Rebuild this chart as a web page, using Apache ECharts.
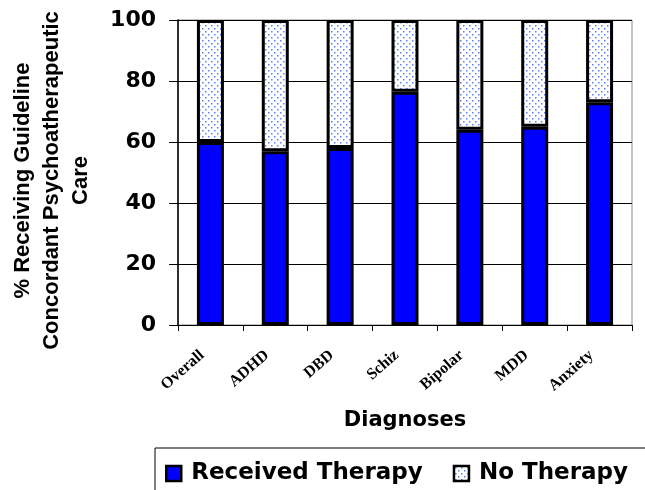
<!DOCTYPE html>
<html>
<head>
<meta charset="utf-8">
<script src="https://cdn.jsdelivr.net/npm/echarts@6/dist/echarts.min.js"></script>
<style>
  html, body { margin: 0; padding: 0; background: #fff; }
  #chart { width: 645px; height: 490px; }
</style>
</head>
<body>
<div id="chart"></div>
<script>
// data
var diagnoses = ['Overall', 'ADHD', 'DBD', 'Schiz', 'Bipolar', 'MDD', 'Anxiety'];
var receivedTherapy = [60, 57, 58, 76.5, 64, 65, 73];
var noTherapy = [40, 43, 42, 23.5, 36, 35, 27];
var yTicks = [0, 20, 40, 60, 80, 100];

// dotted fill for the "No Therapy" part
function makeDots() {
  var c = document.createElement('canvas');
  c.width = 6;
  c.height = 6;
  var ctx = c.getContext('2d');
  ctx.fillStyle = '#ffffff';
  ctx.fillRect(0, 0, 6, 6);
  ctx.fillStyle = '#5a80ee';
  ctx.fillRect(1, 1, 1.5, 1.5);
  ctx.fillRect(4, 4, 1.5, 1.5);
  return c;
}

var myChart = echarts.init(document.getElementById('chart'));
var option = {
  animation: false,
  grid: {
    left: 178,
    right: 13,
    top: 20,
    bottom: 165,
    outerBoundsMode: 'none',
    show: true,
    borderColor: '#888',
    borderWidth: 1
  },
  legend: {
    left: 155,
    top: 448,
    width: 560,
    padding: [14, 40, 30, 10],
    borderColor: '#000',
    borderWidth: 1,
    icon: 'rect',
    itemWidth: 15,
    itemHeight: 15,
    itemGap: 30,
    itemStyle: {
      borderColor: '#000',
      borderWidth: 2.5
    },
    textStyle: {
      fontFamily: 'DejaVu Sans',
      fontWeight: 'bold',
      fontSize: 23,
      color: '#000',
      padding: [0, 0, 0, 5]
    },
    data: ['Received Therapy', 'No Therapy']
  },
  xAxis: {
    type: 'category',
    data: diagnoses,
    name: 'Diagnoses',
    nameLocation: 'middle',
    nameGap: 85,
    nameTextStyle: {
      fontFamily: 'DejaVu Sans',
      fontWeight: 'bold',
      fontSize: 21,
      color: '#000'
    },
    axisLine: { lineStyle: { color: '#000', width: 1 } },
    axisTick: { show: true, length: 6, lineStyle: { color: '#000' } },
    axisLabel: {
      rotate: 41,
      margin: 21,
      interval: 0,
      padding: [0, 11, 0, 0],
      fontFamily: 'Liberation Serif',
      fontWeight: 'bold',
      fontSize: 16,
      color: '#000'
    },
    splitLine: { show: false }
  },
  yAxis: {
    type: 'value',
    min: yTicks[0],
    max: yTicks[yTicks.length - 1],
    interval: 20,
    name: '% Receiving Guideline\nConcordant Psychoatherapeutic\nCare',
    nameLocation: 'middle',
    nameGap: 83,
    nameTextStyle: {
      fontFamily: 'Liberation Sans',
      fontWeight: 'bold',
      fontSize: 22,
      lineHeight: 29,
      color: '#000',
      align: 'center',
      padding: [0, 16, 0, 0]
    },
    axisLine: { show: true, lineStyle: { color: '#000', width: 1.5 } },
    axisTick: { show: true, length: 9, lineStyle: { color: '#000' } },
    axisLabel: {
      margin: 22,
      fontFamily: 'DejaVu Sans',
      fontWeight: 'bold',
      fontSize: 22,
      color: '#000'
    },
    splitLine: { show: true, lineStyle: { color: '#000', width: 1 } }
  },
  series: [
    {
      name: 'Received Therapy',
      type: 'bar',
      stack: 'care',
      barWidth: 27,
      data: receivedTherapy,
      itemStyle: {
        color: '#0000ff',
        borderColor: '#000',
        borderWidth: 3
      }
    },
    {
      name: 'No Therapy',
      type: 'bar',
      stack: 'care',
      barWidth: 27,
      data: noTherapy,
      itemStyle: {
        color: { image: makeDots(), repeat: 'repeat' },
        borderColor: '#000',
        borderWidth: 3
      }
    }
  ]
};
myChart.setOption(option);
</script>
</body>
</html>
